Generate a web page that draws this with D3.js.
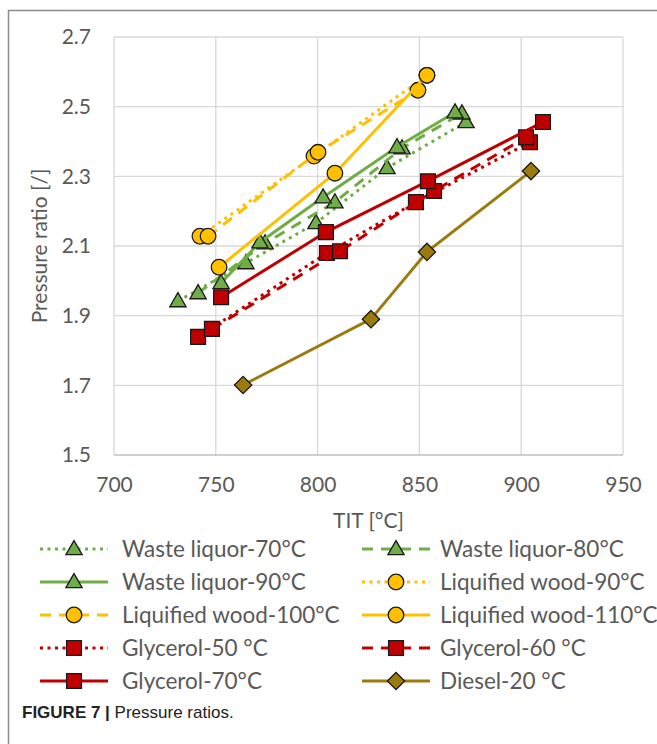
<!DOCTYPE html>
<html>
<head>
<meta charset="utf-8">
<script src="https://cdn.jsdelivr.net/npm/d3@7"></script>
<style>
  body { margin: 0; background: #fff; }
</style>
</head>
<body>
<div id="chart"></div>
<script>
// Axis ticks
const xTicks = [700, 750, 800, 850, 900, 950];
const yTicks = [1.5, 1.7, 1.9, 2.1, 2.3, 2.5, 2.7];

// Series values [TIT °C, pressure ratio]
const wasteLiquor70 = [[731.4, 1.942], [764.8, 2.051], [799.2, 2.166], [834.1, 2.324], [872.9, 2.456]];
const wasteLiquor80 = [[741.3, 1.965], [774.2, 2.108], [808.5, 2.226], [841.5, 2.381], [870.9, 2.481]];
const wasteLiquor90 = [[752.6, 1.994], [771.7, 2.111], [802.7, 2.240], [839.0, 2.384], [867.5, 2.484]];
const liquifiedWood90 = [[742.2, 2.128], [798.2, 2.358], [853.7, 2.590]];
const liquifiedWood100 = [[746.2, 2.128], [800.2, 2.369], [849.3, 2.547]];
const liquifiedWood110 = [[751.6, 2.039], [808.5, 2.309], [853.7, 2.590]];
const glycerol50 = [[741.3, 1.839], [804.6, 2.080], [848.3, 2.226], [904.3, 2.398]];
const glycerol60 = [[748.1, 1.862], [811.0, 2.085], [857.2, 2.258], [902.4, 2.412]];
const glycerol70 = [[752.6, 1.953], [804.1, 2.140], [854.2, 2.286], [910.7, 2.456]];
const diesel20 = [[763.4, 1.701], [826.2, 1.890], [853.7, 2.083], [904.8, 2.315]];

const seriesNames = [
  "Waste liquor-70°C", "Waste liquor-80°C", "Waste liquor-90°C",
  "Liquified wood-90°C", "Liquified wood-100°C", "Liquified wood-110°C",
  "Glycerol-50 °C", "Glycerol-60 °C", "Glycerol-70°C", "Diesel-20 °C",
];

const seriesData = [
  wasteLiquor70, wasteLiquor80, wasteLiquor90,
  liquifiedWood90, liquifiedWood100, liquifiedWood110,
  glycerol50, glycerol60, glycerol70, diesel20,
];

// styles per series
const green = "#70ad47", yellow = "#ffc000", red = "#c00000", olive = "#9c7b0e";
const dotted = "3,4.5", dashed = "11,8";
const styles = [
  { color: green, dash: dotted, shape: "triangle" },
  { color: green, dash: dashed, shape: "triangle" },
  { color: green, dash: null, shape: "triangle" },
  { color: yellow, dash: dotted, shape: "circle" },
  { color: yellow, dash: dashed, shape: "circle" },
  { color: yellow, dash: null, shape: "circle" },
  { color: red, dash: dotted, shape: "square" },
  { color: red, dash: dashed, shape: "square" },
  { color: red, dash: null, shape: "square" },
  { color: olive, dash: null, shape: "diamond" },
];

const width = 657;
const height = 744;
const textColor = "#595959";
const font = "Lato, 'Open Sans', sans-serif";

const svg = d3.select("#chart").append("svg")
  .attr("width", width)
  .attr("height", height);

// outer frame (left and top)
svg.append("path")
  .attr("d", `M8.5,${height} V10.5 H${width}`)
  .attr("fill", "none")
  .attr("stroke", "#8c8c8c")
  .attr("stroke-width", 1.5);

const x = d3.scaleLinear().domain([700, 950]).range([114, 623]);
const y = d3.scaleLinear().domain([1.5, 2.7]).range([455, 37]);

// grid
const grid = svg.append("g");
grid.selectAll("line.v").data(xTicks).join("line")
  .attr("x1", (d) => x(d)).attr("x2", (d) => x(d))
  .attr("y1", y(2.7)).attr("y2", y(1.5))
  .attr("stroke", "#d9d9d9").attr("stroke-width", 1.3);
grid.selectAll("line.h").data(yTicks).join("line")
  .attr("x1", x(700)).attr("x2", x(950))
  .attr("y1", (d) => y(d)).attr("y2", (d) => y(d))
  .attr("stroke", (d) => (d === 1.5 ? "#bfbfbf" : "#d9d9d9"))
  .attr("stroke-width", 1.3);

// axes labels via d3 axes, domain and tick lines hidden
const xAxis = svg.append("g")
  .attr("transform", `translate(0,${y(1.5)})`)
  .call(d3.axisBottom(x).tickValues(xTicks).tickSize(0).tickPadding(22).tickFormat(d3.format("d")));
const yAxis = svg.append("g")
  .attr("transform", `translate(${x(700)},0)`)
  .call(d3.axisLeft(y).tickValues(yTicks).tickSize(0).tickPadding(23).tickFormat(d3.format(".1f")));
[xAxis, yAxis].forEach((g) => {
  g.select(".domain").remove();
  g.selectAll("text")
    .attr("fill", textColor)
    .style("font-family", font)
    .style("font-size", "21px");
});

svg.append("text")
  .attr("x", (x(700) + x(950)) / 2)
  .attr("y", 528)
  .attr("text-anchor", "middle")
  .attr("fill", textColor)
  .style("font-family", font)
  .style("font-size", "21px")
  .text("TIT [°C]");

svg.append("text")
  .attr("transform", `translate(47,${(y(1.5) + y(2.7)) / 2}) rotate(-90)`)
  .attr("text-anchor", "middle")
  .attr("fill", textColor)
  .style("font-family", font)
  .style("font-size", "21px")
  .text("Pressure ratio [/]");

// marker shapes
const symbols = {
  triangle: d3.symbol().type(d3.symbolTriangle).size(115),
  circle: d3.symbol().type(d3.symbolCircle).size(190),
  square: d3.symbol().type(d3.symbolSquare).size(220),
  diamond: d3.symbol().type(d3.symbolSquare).size(150),
};

function drawMarker(g, shape, color, cx, cy) {
  g.append("path")
    .attr("d", symbols[shape]())
    .attr("transform", `translate(${cx},${cy})${shape === "diamond" ? " rotate(45)" : ""}${shape === "triangle" ? " translate(0,1)" : ""}`)
    .attr("fill", color)
    .attr("stroke", "#1a1a1a")
    .attr("stroke-width", 1.3);
}

const line = d3.line().x((d) => x(d[0])).y((d) => y(d[1]));

seriesData.forEach((data, i) => {
  const s = styles[i];
  const g = svg.append("g");
  g.append("path")
    .datum(data)
    .attr("d", line)
    .attr("fill", "none")
    .attr("stroke", s.color)
    .attr("stroke-width", 3)
    .attr("stroke-dasharray", s.dash);
  data.forEach((d) => drawMarker(g, s.shape, s.color, x(d[0]), y(d[1])));
});

// legend
const legendCols = [40, 362];
const legendRows = [549, 582, 615, 648, 681];
seriesNames.forEach((name, i) => {
  const s = styles[i];
  const lx = legendCols[i % 2];
  const ly = legendRows[Math.floor(i / 2)];
  const g = svg.append("g").attr("transform", `translate(${lx},${ly})`);
  g.append("line")
    .attr("x1", 0).attr("x2", 68)
    .attr("stroke", s.color)
    .attr("stroke-width", 3)
    .attr("stroke-dasharray", s.dash);
  drawMarker(g, s.shape, s.color, 34, 0);
  g.append("text")
    .attr("x", i % 2 ? 78 : 82)
    .attr("y", 8)
    .attr("fill", textColor)
    .style("font-family", font)
    .style("font-size", "22.5px")
    .text(name);
});

// caption
const caption = svg.append("text")
  .attr("x", 22)
  .attr("y", 718)
  .attr("fill", "#222")
  .style("font-family", "'Liberation Sans Narrow', 'Arial Narrow', sans-serif")
  .style("font-size", "17px");
caption.append("tspan").attr("font-weight", "bold").text("FIGURE 7 | ");
caption.append("tspan").text("Pressure ratios.");
</script>
</body>
</html>
